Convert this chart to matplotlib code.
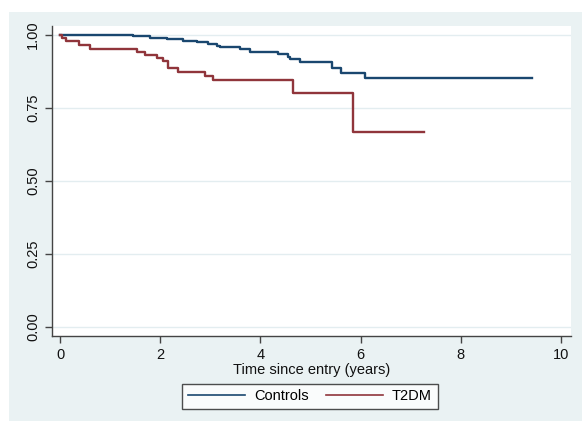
import matplotlib
matplotlib.use("Agg")
import matplotlib.pyplot as plt
from matplotlib.patches import Rectangle
from matplotlib.lines import Line2D

plt.rcParams['font.family'] = ['Liberation Sans', 'DejaVu Sans']

# Kaplan-Meier step data (time in years, survival probability)
controls_t = [0, 1.46, 1.8, 2.13, 2.45, 2.73, 2.95, 3.13, 3.2, 3.6, 3.8, 4.36, 4.55, 4.6, 4.79, 5.43, 5.6, 6.08, 9.42]
controls_s = [1.0, 0.996, 0.991, 0.986, 0.981, 0.977, 0.970, 0.963, 0.958, 0.951, 0.941, 0.935, 0.924, 0.917, 0.906, 0.886, 0.871, 0.853, 0.853]

t2dm_t = [0, 0.03, 0.12, 0.37, 0.6, 1.53, 1.7, 1.93, 2.06, 2.16, 2.36, 2.9, 3.06, 4.66, 5.84, 7.27]
t2dm_s = [1.0, 0.991, 0.979, 0.966, 0.952, 0.943, 0.932, 0.920, 0.911, 0.888, 0.874, 0.860, 0.846, 0.800, 0.667, 0.667]

x_ticks = [0, 2, 4, 6, 8, 10]
y_ticks = [0.0, 0.25, 0.5, 0.75, 1.0]
y_labels = ['0.00', '0.25', '0.50', '0.75', '1.00']
series_names = ['Controls', 'T2DM']

W, H = 582, 421
fig = plt.figure(figsize=(W / 100, H / 100), dpi=100, facecolor='white')
bg = '#EAF2F3'
fig.patches.append(Rectangle((9 / W, 0), 1 - 9 / W, (H - 12) / H,
                             transform=fig.transFigure, facecolor=bg,
                             edgecolor='none', zorder=-10))

ax = fig.add_axes([52 / W, (H - 336) / H, 519 / W, 310 / H])
ax.set_zorder(1)
ax.set_facecolor('white')
blue = '#1A476F'
red = '#90353B'
ax.step(controls_t, controls_s, where='post', color=blue, lw=1.7, label=series_names[0])
ax.step(t2dm_t, t2dm_s, where='post', color=red, lw=1.7, label=series_names[1])

ax.set_xlim(-0.16, 10.2)
ax.set_ylim(-0.031, 1.031)
ax.set_xticks(x_ticks)
ax.set_yticks(y_ticks)
ax.set_yticklabels(y_labels, rotation=90, va='center')
ax.grid(axis='y', color='#E3EDF0', lw=1.0)
ax.set_axisbelow(True)
for s in ['top', 'right']:
    ax.spines[s].set_visible(False)
for s in ['left', 'bottom']:
    ax.spines[s].set_color('#444444')
    ax.spines[s].set_linewidth(1.0)
ax.tick_params(axis='both', direction='out', length=5, width=1, color='#444444',
               labelsize=10.5, labelcolor='#111111')
ax.set_xlabel('Time since entry (years)', fontsize=10.5, labelpad=1, color='#111111')

handles = [Line2D([], [], color=blue, lw=1.2), Line2D([], [], color=red, lw=1.2)]
leg = fig.legend(handles, series_names, loc='center', bbox_to_anchor=(310 / W, 1 - 396.5 / H),
                 ncol=2, frameon=True, fancybox=False, edgecolor='#222222',
                 facecolor='white', fontsize=10.5, handlelength=3.9, columnspacing=1.2,
                 handletextpad=0.6, borderpad=0.4)
leg.get_frame().set_linewidth(1.0)
leg.set_zorder(2)

fig.savefig('out.png', dpi=100, facecolor='white')
